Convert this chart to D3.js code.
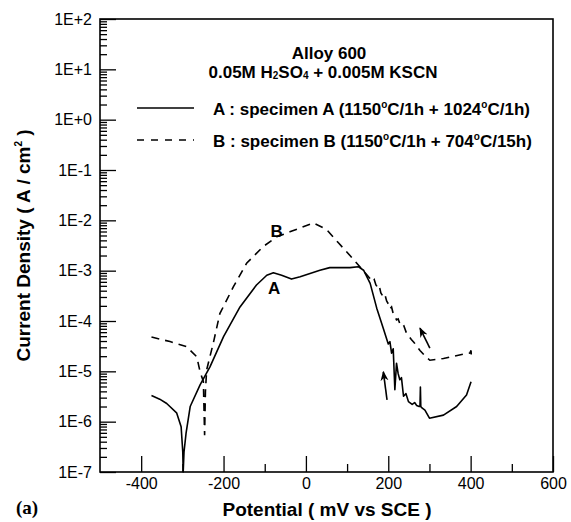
<!DOCTYPE html>
<html>
<head>
<meta charset="utf-8">
<script src="https://cdn.jsdelivr.net/npm/d3@7"></script>
<style>
body { margin: 0; background: #fff; }
text { font-family: "Liberation Sans", Arial, Helvetica, sans-serif; fill: #000; }
</style>
</head>
<body>
<svg id="chart" width="571" height="522"></svg>
<script>
// potential in mV vs SCE, current density in A/cm2
const potentialA = [-375, -355, -338, -314, -303, -299, -298, -296, -291, -281, -257, -233, -200, -160, -120, -95, -79, -59, -35, -14,
  34, 58, 107, 127, 140, 156, 172, 188, 200, 204, 208, 212, 216, 220, 224, 228, 232, 237, 243, 249, 258, 264, 269, 275, 277, 278, 279,
  281, 289, 300, 334, 366, 390, 401];
const currentA = [3.3e-6, 2.8e-6, 2.3e-6, 1.5e-6, 7.9e-7, 2.5e-7, 1.0e-7, 2.5e-7, 5.9e-7, 2.0e-6, 5.4e-6, 1.23e-5, 4.9e-5, 1.9e-4, 5.2e-4, 8.1e-4, 9.1e-4, 8.1e-4, 6.8e-4, 7.6e-4,
  1.02e-3, 1.15e-3, 1.15e-3, 1.2e-3, 1.02e-3, 5.6e-4, 1.8e-4, 7.1e-5, 3.5e-5, 3.9e-5, 2.3e-5, 2.8e-5, 4.3e-6, 1.45e-5, 9.0e-6, 6.8e-6, 7.5e-6, 3.2e-6, 3.6e-6, 2.5e-6, 2.2e-6, 2.4e-6, 2.1e-6, 2.0e-6, 2.0e-6, 4.9e-6, 2.0e-6,
  1.9e-6, 1.7e-6, 1.17e-6, 1.35e-6, 2.0e-6, 3.4e-6, 6.2e-6];

const potentialB = [-375, -330, -290, -265, -257, -249, -246, -244, -241, -225, -209, -176, -144, -104, -71, -39, 18, 50, 80, 107,
  131, 155, 162, 166, 170, 175, 178, 182, 188, 192, 196, 200, 204, 208, 212, 216, 220, 224, 228, 234, 238, 244, 250, 256, 262, 270, 277,
  290, 301, 334, 382, 398, 401, 402];
const currentB = [4.8e-5, 3.9e-5, 3.1e-5, 1.95e-5, 9.8e-6, 6.3e-6, 5.4e-7, 4.0e-6, 1.07e-5, 3.6e-5, 1.4e-4, 4.8e-4, 1.4e-3, 3.0e-3, 4.7e-3, 5.9e-3, 8.9e-3, 6.6e-3, 3.5e-3, 2.0e-3,
  1.2e-3, 7.1e-4, 6.0e-4, 6.6e-4, 5.2e-4, 4.6e-4, 5.0e-4, 3.6e-4, 3.0e-4, 3.3e-4, 2.5e-4, 2.2e-4, 1.75e-4, 1.9e-4, 1.4e-4, 1.25e-4, 1.05e-4, 1.1e-4, 8.9e-5, 7.6e-5, 8.0e-5, 5.8e-5, 5.0e-5, 4.3e-5, 3.8e-5, 3.1e-5, 2.6e-5,
  2.0e-5, 1.66e-5, 1.8e-5, 2.2e-5, 2.3e-5, 2.6e-5, 1.8e-5];

const xMajorTicks = [-400, -200, 0, 200, 400, 600];
const xMinorTicks = [-300, -100, 100, 300, 500];
const yDecades = [1e-7, 1e-6, 1e-5, 1e-4, 1e-3, 1e-2, 1e-1, 1e0, 1e1, 1e2];
const yDecadeLabels = ["1E-7", "1E-6", "1E-5", "1E-4", "1E-3", "1E-2", "1E-1", "1E+0", "1E+1", "1E+2"];

// direction arrows: [potential, current] of tail then head
const arrows = [
  [[301, 2.9e-5], [277, 7.2e-5]],
  [[197, 2.7e-6], [188, 9.8e-6]]
];
const curveLabels = [
  {text: "A", x: -77, y: 4.5e-4},
  {text: "B", x: -71, y: 6.2e-3}
];

const svg = d3.select("#chart");
const plotL = 100, plotR = 553, plotT = 19, plotB = 472;

const x = d3.scaleLinear().domain([-500, 600]).range([plotL, plotR]);
const y = d3.scaleLog().domain([1e-7, 1e2]).range([plotB, plotT]);

const yMinor = [];
yDecades.slice(0, -1).forEach(d => { for (let k = 2; k <= 9; k++) yMinor.push(d * k); });

// axes, ticks pointing inward
const gx = svg.append("g").attr("transform", `translate(0,${plotB})`)
  .call(d3.axisBottom(x).tickValues(xMajorTicks).tickSize(-16).tickSizeOuter(0).tickPadding(6).tickFormat(d => String(d)));
svg.append("g").attr("transform", `translate(0,${plotB})`)
  .call(d3.axisBottom(x).tickValues(xMinorTicks).tickSize(-8).tickSizeOuter(0).tickFormat(""));

const gy = svg.append("g").attr("transform", `translate(${plotL},0)`)
  .call(d3.axisLeft(y).tickValues(yDecades).tickSize(-16).tickSizeOuter(0).tickPadding(8)
    .tickFormat((d, i) => yDecadeLabels[i]));
svg.append("g").attr("transform", `translate(${plotL},0)`)
  .call(d3.axisLeft(y).tickValues(yMinor).tickSize(-7).tickSizeOuter(0).tickFormat(""));

svg.selectAll(".domain").remove();
svg.selectAll(".tick line").attr("stroke", "#000").attr("stroke-width", 1.3);
svg.selectAll(".tick text").style("font-size", "16px").style("font-family", "'Liberation Sans', Arial, sans-serif");

svg.append("rect")
  .attr("x", plotL).attr("y", plotT)
  .attr("width", plotR - plotL).attr("height", plotB - plotT)
  .attr("fill", "none").attr("stroke", "#000").attr("stroke-width", 1.6);

// curves
const line = d3.line().x(d => x(d[0])).y(d => y(d[1]));
const dataA = potentialA.map((p, i) => [p, currentA[i]]);
const dataB = potentialB.map((p, i) => [p, currentB[i]]);

svg.append("path").datum(dataA).attr("d", line)
  .attr("fill", "none").attr("stroke", "#000").attr("stroke-width", 1.6).attr("stroke-linejoin", "round");
svg.append("path").datum(dataB).attr("d", line)
  .attr("fill", "none").attr("stroke", "#000").attr("stroke-width", 1.6).attr("stroke-dasharray", "8,6");

// arrows
svg.append("defs").append("marker")
  .attr("id", "head").attr("viewBox", "0 0 10 10").attr("refX", 9).attr("refY", 5)
  .attr("markerWidth", 10).attr("markerHeight", 10).attr("markerUnits", "userSpaceOnUse").attr("orient", "auto")
  .append("path").attr("d", "M0,1 L10,5 L0,9 L3,5 Z").attr("fill", "#000");

svg.selectAll(".arrow").data(arrows).enter().append("line")
  .attr("class", "arrow")
  .attr("x1", d => x(d[0][0])).attr("y1", d => y(d[0][1]))
  .attr("x2", d => x(d[1][0])).attr("y2", d => y(d[1][1]))
  .attr("stroke", "#000").attr("stroke-width", 1.6).attr("marker-end", "url(#head)");

svg.selectAll(".clabel").data(curveLabels).enter().append("text")
  .attr("class", "clabel")
  .attr("x", d => x(d.x)).attr("y", d => y(d.y))
  .attr("text-anchor", "middle").attr("dy", "0.36em")
  .style("font-size", "17px").style("font-weight", "bold")
  .text(d => d.text);

// annotation block
svg.append("text").attr("x", 329).attr("y", 59).attr("text-anchor", "middle")
  .style("font-size", "17px").style("font-weight", "bold").text("Alloy 600");

const sol = svg.append("text").attr("x", 323).attr("y", 78).attr("text-anchor", "middle")
  .style("font-size", "17px").style("font-weight", "bold");
sol.append("tspan").text("0.05M H");
sol.append("tspan").attr("dy", 1).style("font-size", "10px").text("2");
sol.append("tspan").attr("dy", -1).text("SO");
sol.append("tspan").attr("dy", 1).style("font-size", "10px").text("4");
sol.append("tspan").attr("dy", -1).text(" + 0.005M KSCN");

const legendItems = [
  {dash: null, y: 108, parts: ["A : specimen A (1150", "C/1h + 1024", "C/1h)"]},
  {dash: "7,7", y: 140, parts: ["B : specimen B (1150", "C/1h + 704", "C/15h)"]}
];
legendItems.forEach(item => {
  svg.append("line").attr("x1", 137).attr("x2", 194).attr("y1", item.y).attr("y2", item.y)
    .attr("stroke", "#000").attr("stroke-width", 1.6).attr("stroke-dasharray", item.dash);
  const t = svg.append("text").attr("x", 213).attr("y", item.y + 7)
    .style("font-size", "17px").style("font-weight", "bold");
  item.parts.forEach((p, i) => {
    t.append("tspan").attr("dy", i === 0 ? 0 : 7).text(p);
    if (i < item.parts.length - 1)
      t.append("tspan").attr("dy", -7).style("font-size", "10px").text("o");
  });
});

// axis titles
svg.append("text").attr("x", 327).attr("y", 516).attr("text-anchor", "middle")
  .style("font-size", "19px").style("font-weight", "bold").text("Potential ( mV vs SCE )");

const yt = svg.append("text").attr("transform", `translate(30,${(plotT + plotB) / 2}) rotate(-90)`)
  .attr("text-anchor", "middle").style("font-size", "19px").style("font-weight", "bold");
yt.append("tspan").text("Current Density ( A / cm");
yt.append("tspan").attr("dy", -8).style("font-size", "10px").text("2");
yt.append("tspan").attr("dy", 8).text(" )");

svg.append("text").attr("x", 16).attr("y", 514)
  .style("font-family", "'Liberation Serif', 'Times New Roman', serif").style("font-size", "19px").style("font-weight", "bold")
  .text("(a)");
</script>
</body>
</html>
